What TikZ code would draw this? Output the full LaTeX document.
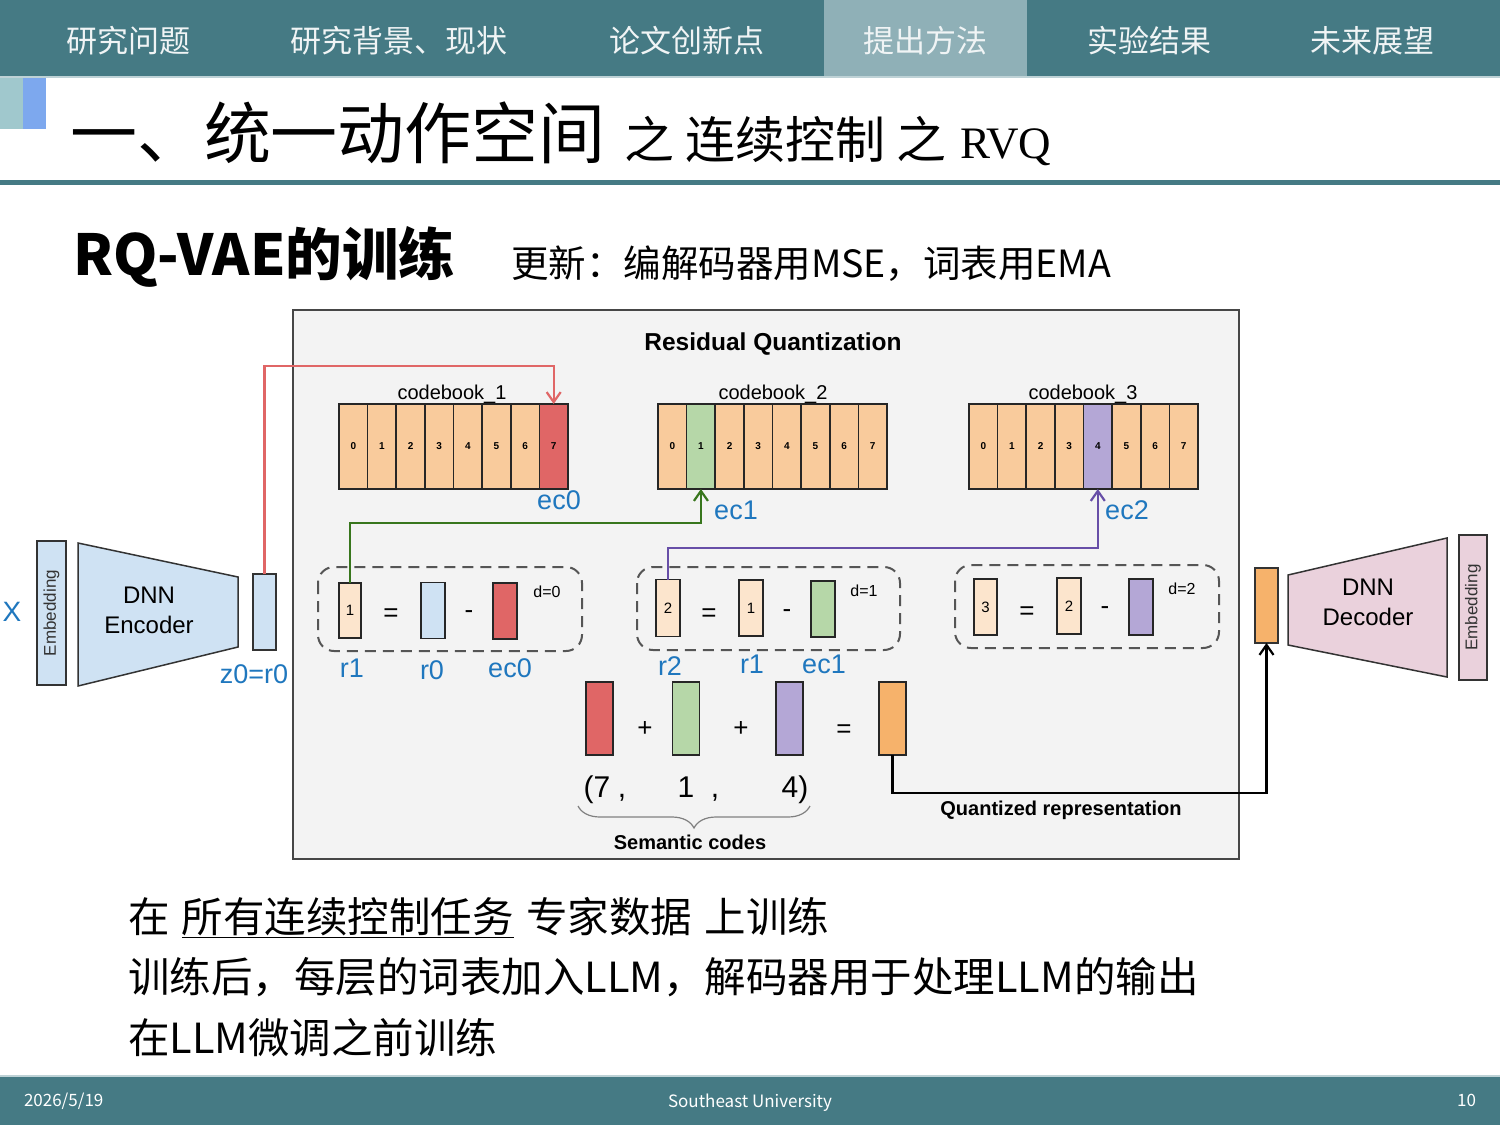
\documentclass[tikz,border=0pt]{standalone}
\usepackage{fontspec}
\setmainfont{Liberation Sans}
\newfontfamily\cjk{Noto Sans CJK SC}
\newfontfamily\rvqfont{Liberation Serif}
\usetikzlibrary{arrows.meta,decorations.pathreplacing}
\newcommand{\fsz}[1]{\fontsize{#1}{#1}\selectfont}
\definecolor{teal1}{RGB}{69,122,132}
\definecolor{tabhl}{RGB}{143,176,183}
\definecolor{navline}{RGB}{190,210,214}
\definecolor{decoteal}{RGB}{160,200,205}
\definecolor{decoblue}{RGB}{125,168,238}
\definecolor{navwhite}{RGB}{240,244,245}
\definecolor{panelbg}{RGB}{243,243,243}
\definecolor{panelborder}{RGB}{70,70,70}
\definecolor{peach}{RGB}{249,203,156}
\definecolor{lpeach}{RGB}{252,229,205}
\definecolor{cred}{RGB}{224,102,102}
\definecolor{cgreen}{RGB}{182,215,168}
\definecolor{cpurple}{RGB}{180,167,214}
\definecolor{corange}{RGB}{246,178,107}
\definecolor{lblue}{RGB}{207,226,243}
\definecolor{lpink}{RGB}{234,209,220}
\definecolor{linered}{RGB}{224,102,102}
\definecolor{linegreen}{RGB}{56,118,29}
\definecolor{linepurple}{RGB}{103,78,167}
\definecolor{labblue}{RGB}{31,119,190}
\definecolor{dashgray}{RGB}{85,85,85}
\begin{document}
\begin{tikzpicture}[x=1pt,y=-1pt,
  every node/.style={inner sep=0pt, outer sep=0pt},
  cell/.style={draw=black!85, line width=1.5pt, minimum width=28.6pt, minimum height=85pt, font=\fsz{10}\bfseries},
  vec/.style={draw=black!85, line width=1.3pt, minimum width=24pt, minimum height=56pt, font=\fsz{15}},
  bvec/.style={draw=black!85, line width=1.3pt, minimum width=27pt, minimum height=73pt},
  lbl/.style={text=labblue, font=\fsz{27}},
  op/.style={font=\fsz{26}},
  dtxt/.style={font=\fsz{16}},
  cbl/.style={anchor=base, font=\fsz{20}},
  codes/.style={anchor=base, font=\fsz{30}},
  dbox/.style={draw=dashgray, line width=2pt, dash pattern=on 11pt off 7pt, rounded corners=16pt},
  conn/.style={line width=2.2pt, -{Straight Barb[length=10pt,width=14pt]}},
  navtext/.style={text=navwhite, font=\cjk\fsz{31}},
  foot/.style={text=white, font=\cjk\fsz{17}},
  shapeline/.style={draw=black!80, line width=1.5pt},
]
\useasboundingbox (0,0) rectangle (1500,1125);
\fill[white] (0,0) rectangle (1500,1125);
% nav bar
\fill[teal1] (0,0) rectangle (1500,76);
\fill[tabhl] (824,0) rectangle (1027,76);
\fill[navline] (0,76) rectangle (1500,78);
\node[navtext] (n1) at (128,41) {研究问题};
\node[navtext] (n2) at (399,41) {研究背景、现状};
\node[navtext] (n3) at (687,41) {论文创新点};
\node[navtext] (n4) at (925,41) {提出方法};
\node[navtext] (n5) at (1149,41) {实验结果};
\node[navtext] (n6) at (1372,41) {未来展望};
% deco + title
\fill[decoteal] (0,78) rectangle (23,129);
\fill[decoblue] (23,78) rectangle (46,129);
\node[anchor=base west, font=\cjk\fsz{67}] (t1) at (70,158) {一、统一动作空间};
\node[anchor=base west, font=\cjk\fsz{50}] (t2) at (624,158) {之 连续控制 之};
\node[anchor=base west, font=\rvqfont\fsz{45}] (t3) at (960,158) {RVQ};
\fill[teal1] (0,180) rectangle (1500,185);
% subtitle
\node[anchor=base west, font=\cjk\bfseries\fsz{56.5}] (sub) at (73,275) {RQ-VAE的训练};
\node[anchor=base west, font=\cjk\fsz{37.5}] (upd) at (511,277) {更新：编解码器用MSE，词表用EMA};
% panel
\node[draw=panelborder, fill=panelbg, line width=1.5pt, anchor=north west, minimum width=946pt, minimum height=549pt] (panel) at (293,310) {};
\node[font=\fsz{24.5}\bfseries] (rqt) at (773,344) {Residual Quantization};
% codebooks
\foreach \i/\c in {0/peach,1/peach,2/peach,3/peach,4/peach,5/peach,6/peach,7/cred}
  \node[cell, fill=\c] (cba-\i) at ({339+28.625*\i+14.31},446.5) {\i};
\foreach \i/\c in {0/peach,1/cgreen,2/peach,3/peach,4/peach,5/peach,6/peach,7/peach}
  \node[cell, fill=\c] (cbb-\i) at ({658+28.625*\i+14.31},446.5) {\i};
\foreach \i/\c in {0/peach,1/peach,2/peach,3/peach,4/cpurple,5/peach,6/peach,7/peach}
  \node[cell, fill=\c] (cbc-\i) at ({969+28.625*\i+14.31},446.5) {\i};
\node[cbl] (cbla) at (452,399) {codebook\_1};
\node[cbl] (cblb) at (773,399) {codebook\_2};
\node[cbl] (cblc) at (1083,399) {codebook\_3};
\node[lbl] (ec0t) at (559,500) {ec0};
\node[lbl] (ec1t) at (736,510) {ec1};
\node[lbl] (ec2t) at (1127,510) {ec2};
% dashed boxes
\draw[dbox] (318,567) rectangle (582,651);
\draw[dbox] (637,567) rectangle (900,650);
\draw[dbox] (955,565) rectangle (1219,648);
% box 1
\node[vec, fill=lpeach, minimum width=22pt, minimum height=55pt] (r1a) at (350,610.5) {1};
\node[op] (eq1) at (391,615) {=};
\node[vec, fill=lblue] (r0a) at (433,610.5) {};
\node[op] (mi1) at (469,615) {-};
\node[vec, fill=cred] (e0a) at (505,611) {};
\node[dtxt] (d0) at (547,592) {d=0};
% box 2
\node[vec, fill=lpeach, minimum height=57pt] (r2a) at (668,608) {2};
\node[op] (eq2) at (709,615) {=};
\node[vec, fill=lpeach] (r1b) at (751,608) {1};
\node[op] (mi2) at (787,614) {-};
\node[vec, fill=cgreen] (e1a) at (823,609) {};
\node[dtxt] (d1) at (864,591) {d=1};
% box 3
\node[vec, fill=lpeach, minimum width=23pt] (r3a) at (985.5,607) {3};
\node[op] (eq3) at (1027,613) {=};
\node[vec, fill=lpeach] (r2b) at (1069,606) {2};
\node[op] (mi3) at (1105,611) {-};
\node[vec, fill=cpurple] (e2a) at (1141,607) {};
\node[dtxt] (d2) at (1182,589) {d=2};
% labels under boxes
\node[lbl] (lr1) at (352,668) {r1};
\node[lbl] (lr0) at (432,670) {r0};
\node[lbl] (lec0) at (510,668) {ec0};
\node[lbl] (lr2) at (670,666) {r2};
\node[lbl] (lr1b) at (752,664) {r1};
\node[lbl] (lec1) at (824,664) {ec1};
% sum row
\node[bvec, fill=cred] (sr) at (599.5,718.5) {};
\node[op] (pl1) at (645,729) {+};
\node[bvec, fill=cgreen] (sg) at (686,718.5) {};
\node[op] (pl2) at (741,729) {+};
\node[bvec, fill=cpurple] (sp) at (789.5,718.5) {};
\node[op] (eq4) at (844,731) {=};
\node[bvec, fill=corange] (qo) at (892.5,718.5) {};
\node[codes] (c7) at (597,797) {(7};
\node[codes] (k1) at (622,797) {,};
\node[codes] (c1) at (686,797) {1};
\node[codes] (k2) at (715,797) {,};
\node[codes] (c4) at (795,797) {4)};
\draw[decorate, decoration={brace, mirror, amplitude=22pt}, line width=1.2pt, draw=black!50] (578,806) -- (810,806);
\node[font=\fsz{20}\bfseries] (sem) at (690,842) {Semantic codes};
\node[font=\fsz{20}\bfseries] (qr) at (1061,810) {Quantized representation};
% encoder side
\node[text=labblue, font=\fsz{28}] (xx) at (12,612) {X};
\node[shapeline, fill=lblue, minimum width=29pt, minimum height=144pt] (embl) at (51.5,613) {};
\node[rotate=90, font=\fsz{17}, text=black!80] (embltxt) at (embl.center) {Embedding};
\filldraw[shapeline, fill=lblue] (78,543) -- (238,577) -- (238,647) -- (78,686) -- cycle;
\node[font=\fontsize{24}{30}\selectfont, align=center] (enc) at (149,610) {DNN\\Encoder};
\node[shapeline, fill=lblue, minimum width=23pt, minimum height=76pt] (z0) at (264.5,612) {};
\node[lbl] (z0t) at (254,674) {z0=r0};
% decoder side
\node[shapeline, fill=corange, minimum width=23pt, minimum height=75pt] (dec) at (1266.5,605.5) {};
\filldraw[shapeline, fill=lpink] (1288,575) -- (1447,538) -- (1447,677) -- (1288,645) -- cycle;
\node[font=\fontsize{24}{30}\selectfont, align=center] (decn) at (1368,602) {DNN\\Decoder};
\node[shapeline, fill=lpink, minimum width=28pt, minimum height=145pt] (embr) at (1473,607.5) {};
\node[rotate=90, font=\fsz{17}, text=black!80] (embrtxt) at (embr.center) {Embedding};
% connectors
\coordinate (yr) at (0,366);
\coordinate (yg) at (0,523);
\coordinate (yp) at (0,548);
\coordinate (yb) at (0,793);
\draw[conn, draw=linered] (z0.north) -- (z0.north |- yr) -- (cba-7.north |- yr) -- (cba-7.north);
\draw[conn, draw=linegreen] (r1a.north) -- (r1a.north |- yg) -- (cbb-1.south |- yg) -- (cbb-1.south);
\draw[conn, draw=linepurple] (r2a.north) -- (r2a.north |- yp) -- (cbc-4.south |- yp) -- (cbc-4.south);
\draw[conn, draw=black] (qo.south) -- (qo.south |- yb) -- (dec.south |- yb) -- (dec.south);
% bottom text
\node[anchor=base west, font=\cjk\fsz{41.5}] (b1) at (128,932) {在\hspace{0.3em}\underline{所有连续控制任务}\hspace{0.3em}专家数据\hspace{0.3em}上训练};
\node[anchor=base west, font=\cjk\fsz{41.5}] (b2) at (128,992) {训练后，每层的词表加入LLM，解码器用于处理LLM的输出};
\node[anchor=base west, font=\cjk\fsz{41.5}] (b3) at (128,1053) {在LLM微调之前训练};
% footer
\fill[navline] (0,1075) rectangle (1500,1077);
\fill[teal1] (0,1077) rectangle (1500,1125);
\node[foot, anchor=base west] (f1) at (24,1106) {2026/5/19};
\node[foot, anchor=base] (f2) at (750,1107) {Southeast University};
\node[foot, anchor=base east] (f3) at (1476,1106) {10};
\end{tikzpicture}
\end{document}
